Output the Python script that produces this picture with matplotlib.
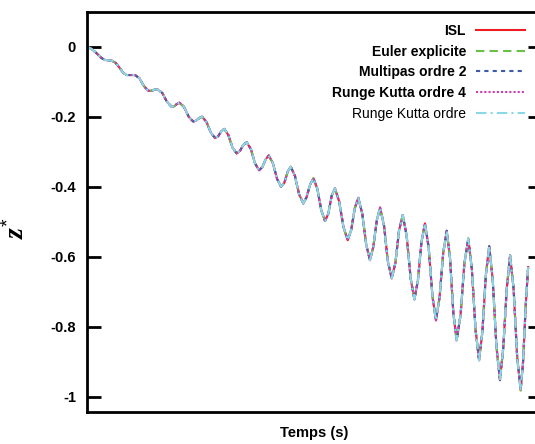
import matplotlib
matplotlib.use('agg')
import matplotlib.pyplot as plt
import numpy as np

# temps (s) et z*
t = [0.00, 0.20, 0.44, 0.65, 0.82, 1.12, 1.30, 1.50, 1.65, 1.80,
     2.18, 2.38, 2.58, 2.79, 2.93, 3.06, 3.20, 3.42, 3.63, 3.85,
     3.97, 4.08, 4.20, 4.41, 4.62, 4.83, 4.96, 5.10, 5.23, 5.43,
     5.63, 5.82, 5.96, 6.10, 6.24, 6.42, 6.61, 6.80, 6.95, 7.10,
     7.26, 7.45, 7.64, 7.82, 7.97, 8.12, 8.26, 8.45, 8.64, 8.82,
     8.97, 9.12, 9.26, 9.45, 9.64, 9.83, 9.98, 10.14, 10.29, 10.47,
     10.65, 10.82, 10.97, 11.12, 11.27, 11.46, 11.66, 11.85, 12.01, 12.17,
     12.33, 12.51, 12.69, 12.86, 13.01, 13.17, 13.32, 13.50, 13.67, 13.85,
     14.02, 14.18, 14.35, 14.53, 14.71, 14.88, 15.04, 15.20, 15.36, 15.53,
     15.70, 15.86, 16.02, 16.19, 16.35, 16.50, 16.65, 16.80, 16.98, 17.15,
     17.33, 17.49, 17.66, 17.82, 17.97, 18.13, 18.28, 18.44, 18.61, 18.77,
     18.92, 19.08, 19.23, 19.39, 19.55, 19.71, 19.82, 19.94, 20.05]
z = [0.000, -0.006, -0.019, -0.032, -0.038, -0.040, -0.046, -0.062, -0.075, -0.081,
     -0.081, -0.090, -0.112, -0.126, -0.126, -0.123, -0.122, -0.132, -0.157, -0.172,
     -0.170, -0.164, -0.160, -0.172, -0.200, -0.214, -0.211, -0.204, -0.200, -0.215,
     -0.246, -0.261, -0.256, -0.242, -0.235, -0.252, -0.288, -0.305, -0.298, -0.281,
     -0.273, -0.293, -0.334, -0.353, -0.344, -0.322, -0.311, -0.333, -0.378, -0.400,
     -0.389, -0.357, -0.343, -0.369, -0.422, -0.448, -0.430, -0.394, -0.376, -0.406,
     -0.468, -0.498, -0.477, -0.426, -0.405, -0.442, -0.516, -0.553, -0.523, -0.462,
     -0.432, -0.477, -0.565, -0.610, -0.573, -0.497, -0.460, -0.511, -0.612, -0.662,
     -0.617, -0.526, -0.481, -0.541, -0.662, -0.722, -0.668, -0.559, -0.505, -0.574,
     -0.713, -0.782, -0.718, -0.590, -0.526, -0.604, -0.761, -0.839, -0.766, -0.621,
     -0.548, -0.635, -0.809, -0.896, -0.815, -0.651, -0.570, -0.666, -0.857, -0.953,
     -0.859, -0.690, -0.596, -0.693, -0.885, -0.982, -0.900, -0.740, -0.630]

labels = ['ISL', 'Euler explicite', 'Multipas ordre 2', 'Runge Kutta ordre 4', 'Runge Kutta ordre']
colors = ['#ee1c25', '#6abf45', '#3c5ba8', '#cc3bb0', '#88d8e8']
styles = ['-', (0, (4, 2.5)), (0, (2, 2)), (0, (1, 1)), (0, (5, 2, 1, 2))]
y_ticks = [0, -0.2, -0.4, -0.6, -0.8, -1]

plt.rcParams['font.family'] = ['Liberation Sans', 'DejaVu Sans']
plt.rcParams['mathtext.fontset'] = 'custom'
plt.rcParams['mathtext.it'] = 'Liberation Serif:italic:bold'
plt.rcParams['mathtext.rm'] = 'Liberation Sans'

fig = plt.figure(figsize=(5.35, 4.44), dpi=100)
ax = fig.add_axes([87 / 535, 1 - 412 / 444, (542 - 87) / 535, (412 - 11.7) / 444])

x = np.array(t)
y = np.array(z)
for lab, col, ls in zip(labels, colors, styles):
    ax.plot(x, y, color=col, linestyle=ls, linewidth=1.5, label=lab)

ax.set_xlim(0, 20.68)
ax.set_ylim(-1.044, 0.1)
ax.set_xticks([])
ax.set_yticks(y_ticks)
ax.set_yticklabels(['0', '-0.2', '-0.4', '-0.6', '-0.8', '-1'], fontsize=10.5, fontweight='bold')
ax.tick_params(axis='y', direction='in', length=10, width=2, pad=8, right=True)
for s in ax.spines.values():
    s.set_linewidth(2)

ax.set_xlabel('Temps (s)', fontsize=10.5, fontweight='bold', labelpad=10)
ax.set_ylabel(r'$z^{*}$', fontsize=20)
ax.yaxis.set_label_coords(-0.125, 0.46)

leg = ax.legend(loc='upper right', bbox_to_anchor=(525 / 535, 1 - 24 / 444),
                bbox_transform=fig.transFigure, frameon=False, markerfirst=False,
                fontsize=10, handlelength=3.5, handletextpad=0.75, labelspacing=0.48,
                borderpad=0, borderaxespad=0)
for i, txt in enumerate(leg.get_texts()):
    txt.set_fontweight('bold' if i < 4 else 'normal')
    txt.set_ha('right')

plt.savefig('out.png', dpi=100)
